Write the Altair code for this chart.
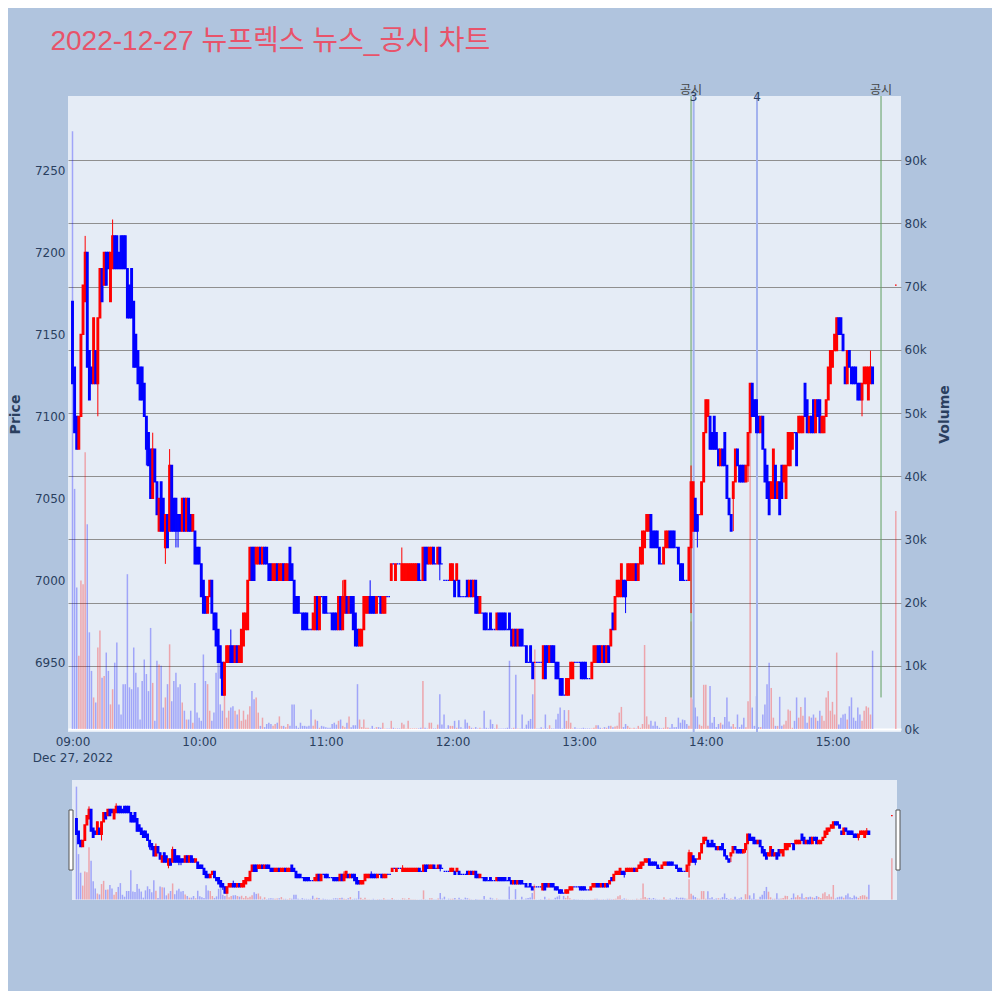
import json
import altair as alt
import pandas as pd

# ---- minute candles from 09:00 (open / close in KRW) ----
open_09 = [7170, 7130, 7100, 7080, 7100, 7150, 7170, 7200, 7140, 7130,
           7120, 7140, 7120, 7160, 7190, 7180, 7200, 7200, 7170, 7190,
           7210, 7210, 7200, 7210, 7210, 7210, 7190, 7180, 7190, 7170,
           7150, 7140, 7130, 7130, 7120, 7100, 7090, 7080, 7050, 7080,
           7060, 7030, 7060, 7050, 7020, 7040, 7030, 7070, 7050, 7050,
           7040, 7040, 7030, 7050, 7030, 7050, 7040, 7030, 7030, 7020]
close_09 = [7120, 7090, 7080, 7100, 7150, 7180, 7200, 7130, 7110, 7120,
            7160, 7120, 7160, 7190, 7170, 7200, 7180, 7190, 7200, 7210,
            7190, 7190, 7190, 7190, 7190, 7190, 7160, 7160, 7160, 7130,
            7130, 7120, 7110, 7110, 7100, 7080, 7070, 7050, 7080, 7060,
            7040, 7050, 7030, 7030, 7040, 7020, 7070, 7030, 7030, 7030,
            7030, 7030, 7050, 7030, 7050, 7030, 7030, 7040, 7010, 7010]
open_10 = [7020, 7010, 7000, 6990, 6980, 6990, 7000, 6980, 6980, 6970,
           6960, 6950, 6930, 6950, 6950, 6960, 6960, 6950, 6960, 6950,
           6950, 6960, 6970, 6970, 7000, 7020, 7020, 7010, 7010, 7020,
           7010, 7020, 7020, 7010, 7010, 7000, 7000, 7010, 7000, 7000,
           7010, 7000, 7000, 7020, 7010, 7000, 6990, 6990, 6980, 6980,
           6980, 6980, 6970, 6970, 6970, 6970, 6990, 6970, 6990, 6990]
close_10 = [7010, 6990, 6980, 6980, 6990, 7000, 6980, 6970, 6960, 6950,
            6950, 6930, 6950, 6960, 6960, 6950, 6950, 6960, 6950, 6960,
            6970, 6980, 6980, 7000, 7020, 7000, 7000, 7020, 7020, 7010,
            7020, 7010, 7010, 7000, 7000, 7010, 7010, 7000, 7010, 7010,
            7000, 7010, 7010, 7000, 7000, 6980, 6980, 6980, 6980, 6970,
            6970, 6970, 6970, 6970, 6980, 6990, 6970, 6990, 6990, 6980]
open_11 = [6990, 6980, 6980, 6980, 6980, 6980, 6970, 6990, 6970, 6980,
           6990, 6980, 6990, 6990, 6980, 6970, 6960, 6960, 6970, 6980,
           6980, 6990, 6990, 6990, 6980, 6990, 6990, 6980, 6980, 6990,
           6990, 7000, 7010, 7000, 7010, 7010, 7000, 7000, 7000, 7000,
           7000, 7000, 7000, 7000, 7010, 7000, 7000, 7020, 7020, 7010,
           7010, 7020, 7010, 7010, 7020, 7010, 7000, 7000, 7000, 7000]
close_11 = [6980, 6980, 6980, 6970, 6970, 6970, 6990, 6970, 6990, 7000,
            6980, 6990, 6980, 6970, 6960, 6960, 6970, 6970, 6990, 6990,
            6990, 6980, 6980, 6980, 6990, 6990, 6980, 6990, 6990, 6990,
            6990, 7010, 7010, 7010, 7010, 7010, 7010, 7010, 7010, 7010,
            7010, 7010, 7010, 7010, 7000, 7000, 7020, 7000, 7010, 7020,
            7020, 7010, 7010, 7020, 7010, 7010, 7000, 7000, 7000, 7010]
open_12 = [7000, 7000, 7000, 7000, 6990, 6990, 6990, 7000, 6990, 7000,
           6990, 7000, 6990, 6980, 6980, 6980, 6980, 6970, 6980, 6970,
           6970, 6970, 6980, 6980, 6980, 6980, 6970, 6980, 6970, 6960,
           6970, 6960, 6970, 6970, 6960, 6960, 6950, 6960, 6950, 6950,
           6950, 6950, 6950, 6940, 6960, 6960, 6950, 6960, 6960, 6950,
           6950, 6940, 6940, 6930, 6930, 6930, 6940, 6940, 6950, 6950]
close_12 = [7010, 6990, 7010, 6990, 6990, 6990, 6990, 6990, 7000, 6990,
            7000, 6980, 6980, 6990, 6980, 6970, 6970, 6970, 6970, 6970,
            6970, 6980, 6970, 6970, 6970, 6970, 6970, 6970, 6960, 6970,
            6960, 6970, 6960, 6960, 6960, 6950, 6950, 6950, 6940, 6950,
            6950, 6950, 6950, 6960, 6940, 6950, 6960, 6950, 6950, 6940,
            6940, 6930, 6930, 6930, 6940, 6940, 6950, 6950, 6950, 6950]
open_13 = [6950, 6950, 6950, 6950, 6940, 6940, 6940, 6950, 6950, 6960,
           6960, 6950, 6960, 6950, 6960, 6960, 6980, 6970, 6990, 6990,
           6990, 7000, 7000, 7000, 7000, 7000, 7000, 7010, 7000, 7010,
           7010, 7020, 7030, 7030, 7040, 7030, 7030, 7030, 7020, 7010,
           7010, 7020, 7020, 7030, 7030, 7030, 7020, 7020, 7010, 7010,
           7000, 7000, 7000, 7020, 7030, 7050, 7040, 7040, 7040, 7060]
close_13 = [6950, 6940, 6940, 6940, 6940, 6940, 6950, 6960, 6960, 6950,
            6950, 6960, 6950, 6960, 6950, 6970, 6970, 6990, 7000, 7000,
            7010, 6990, 6990, 7010, 7010, 7010, 7010, 7000, 7010, 7020,
            7030, 7030, 7040, 7040, 7020, 7020, 7020, 7020, 7010, 7010,
            7020, 7030, 7030, 7020, 7020, 7020, 7020, 7010, 7000, 7000,
            7000, 7000, 7020, 7060, 7060, 7030, 7030, 7040, 7060, 7090]
open_14 = [7090, 7100, 7100, 7090, 7100, 7090, 7080, 7070, 7080, 7090,
           7070, 7050, 7040, 7050, 7060, 7080, 7070, 7070, 7070, 7060,
           7070, 7090, 7120, 7110, 7110, 7100, 7090, 7100, 7080, 7070,
           7060, 7050, 7050, 7070, 7050, 7060, 7070, 7060, 7050, 7070,
           7070, 7080, 7090, 7090, 7090, 7090, 7090, 7120, 7110, 7090,
           7100, 7110, 7090, 7110, 7110, 7090, 7090, 7100, 7110, 7120]
close_14 = [7110, 7110, 7080, 7080, 7080, 7080, 7070, 7080, 7070, 7070,
            7050, 7040, 7030, 7060, 7080, 7070, 7060, 7060, 7060, 7070,
            7090, 7120, 7100, 7100, 7090, 7090, 7100, 7080, 7060, 7050,
            7040, 7060, 7080, 7050, 7060, 7040, 7050, 7070, 7070, 7090,
            7090, 7090, 7090, 7070, 7100, 7100, 7100, 7100, 7090, 7100,
            7090, 7090, 7110, 7100, 7090, 7100, 7100, 7110, 7130, 7140]
open_15 = [7130, 7140, 7140, 7160, 7160, 7150, 7130, 7120, 7140, 7130,
           7130, 7130, 7120, 7120, 7110, 7120, 7120, 7110, 7120, 7130]
close_15 = [7140, 7150, 7160, 7150, 7150, 7140, 7120, 7140, 7130, 7120,
            7120, 7120, 7110, 7110, 7120, 7130, 7130, 7130, 7130, 7120]

# visible wick extremes (minute index -> price)
wick_high = {6: 7210, 19: 7220, 38: 7090, 46: 7080, 75: 6970, 128: 7000,
             141: 7000, 156: 7020, 293: 7070, 378: 7140}
wick_low = {12: 7100, 35: 7070, 44: 7010, 49: 7020, 50: 7020, 70: 6940,
            174: 7000, 262: 6980, 293: 6980, 296: 7020, 313: 7030, 320: 7060,
            374: 7100}

# volume per minute, thousand shares
vol_09 = [94.6, 38.0, 22.4, 11.6, 23.5, 22.9, 43.8, 32.4, 15.3, 9.2,
          5.0, 4.2, 12.9, 15.6, 8.1, 8.4, 12.1, 9.2, 3.9, 6.3,
          10.5, 13.7, 3.9, 2.3, 7.1, 7.1, 24.5, 6.6, 6.3, 12.9,
          8.9, 6.6, 1.5, 7.6, 11.0, 8.7, 6.0, 16.0, 7.3, 1.3,
          10.8, 10.2, 10.0, 3.4, 5.0, 7.1, 13.4, 4.4, 7.6, 8.9,
          6.6, 7.1, 4.2, 2.9, 1.5, 1.5, 2.9, 1.0, 7.3, 2.6]
vol_10 = [1.8, 1.3, 11.8, 7.6, 7.1, 2.9, 1.3, 2.6, 8.9, 11.8,
          3.9, 2.9, 7.1, 1.8, 2.9, 3.4, 3.6, 2.9, 2.3, 3.1,
          1.3, 2.9, 1.5, 2.3, 3.6, 6.0, 4.7, 5.0, 2.6, 0.5,
          1.8, 0.3, 0.8, 1.0, 0.8, 0.5, 0.8, 1.0, 2.0, 0.5,
          0.5, 0.3, 0.8, 0.5, 3.9, 3.9, 0.5, 0.2, 1.0, 0.5,
          0.5, 0.4, 0.5, 3.1, 0.5, 1.5, 1.3, 0.2, 0.5, 0.4]
vol_11 = [0.3, 0.2, 0.2, 0.8, 1.0, 0.7, 1.3, 1.5, 0.5, 0.3,
          1.0, 2.0, 0.3, 0.6, 0.6, 7.1, 1.5, 0.3, 1.5, 0.2,
          0.2, 0.1, 0.5, 0.1, 0.3, 0.3, 0.2, 1.0, 0.1, 0.1,
          0.1, 1.3, 0.2, 0.1, 0.1, 0.1, 1.0, 0.7, 0.1, 1.3,
          0.1, 0.1, 0.1, 0.1, 0.1, 0.2, 7.6, 0.2, 0.1, 1.0,
          1.0, 0.1, 0.1, 0.7, 5.5, 0.7, 2.3, 0.1, 0.6, 0.5]
vol_12 = [0.5, 1.3, 0.2, 1.4, 0.3, 0.1, 1.5, 1.0, 0.5, 0.2,
          0.1, 0.3, 0.1, 0.2, 0.1, 2.9, 0.2, 0.1, 1.5, 0.8,
          0.1, 0.7, 0.1, 0.1, 0.1, 0.1, 0.2, 10.8, 0.1, 0.2,
          8.6, 0.1, 0.1, 2.3, 0.1, 0.7, 1.3, 1.6, 5.5, 12.6,
          0.1, 0.1, 0.3, 0.1, 2.3, 0.1, 0.6, 0.1, 0.1, 1.5,
          2.4, 3.4, 0.1, 3.0, 1.3, 3.0, 1.0, 0.1, 0.3, 0.1]
vol_13 = [0.1, 0.1, 0.2, 0.1, 0.1, 0.1, 0.1, 0.2, 0.6, 0.6,
          0.2, 0.1, 0.3, 0.2, 0.5, 0.5, 0.3, 0.4, 0.5, 2.6,
          3.5, 0.3, 0.8, 0.5, 0.2, 0.1, 0.2, 0.1, 0.5, 0.2,
          0.8, 13.3, 2.0, 0.7, 1.3, 0.5, 1.2, 0.5, 0.2, 0.1,
          0.2, 1.9, 0.3, 0.2, 0.8, 0.3, 0.3, 1.8, 1.0, 1.5,
          1.4, 0.8, 0.5, 17.0, 4.7, 3.4, 2.0, 0.7, 0.5, 7.0]
vol_14 = [7.0, 0.5, 6.8, 1.0, 1.9, 0.3, 0.8, 1.0, 0.7, 1.9,
          5.0, 1.2, 0.4, 0.8, 0.3, 2.3, 0.3, 0.7, 1.8, 0.3,
          4.4, 54.0, 3.4, 0.5, 5.2, 0.3, 0.3, 2.3, 3.9, 7.1,
          10.5, 6.5, 1.8, 0.5, 0.5, 5.1, 0.5, 0.7, 1.3, 3.1,
          2.9, 0.2, 1.3, 5.0, 1.8, 3.5, 2.1, 5.0, 1.0, 2.0,
          1.8, 2.3, 1.8, 1.3, 2.9, 2.1, 1.3, 5.0, 6.0, 2.9]
vol_15 = [4.3, 2.3, 12.1, 0.7, 1.8, 2.3, 2.4, 1.5, 3.6, 5.0,
          1.8, 1.3, 3.4, 2.3, 1.3, 2.9, 3.6, 3.4, 2.3, 12.4]

# closing single-price auction
auction_time = "15:30"
auction_price = 7180
auction_vol = 34.5

# disclosure / news markers
gongsi_times = ["13:53", "15:23"]
news_times = ["13:54:15", "14:24:15"]
news_labels = ["3", "4"]

tick_labels = ["09:00", "10:00", "11:00", "12:00", "13:00", "14:00", "15:00"]
date_label = "Dec 27, 2022"
title_text = "2022-12-27 뉴프렉스 뉴스_공시 차트"


def minute_of(t):
    parts = [int(p) for p in t.split(":")]
    sec = parts[2] / 60 if len(parts) > 2 else 0
    return (parts[0] - 9) * 60 + parts[1] + sec


opens = open_09 + open_10 + open_11 + open_12 + open_13 + open_14 + open_15
closes = close_09 + close_10 + close_11 + close_12 + close_13 + close_14 + close_15
vols = vol_09 + vol_10 + vol_11 + vol_12 + vol_13 + vol_14 + vol_15
if not (len(opens) == len(closes) == len(vols)):
    raise ValueError((len(opens), len(closes), len(vols)))

mins = list(range(len(opens))) + [minute_of(auction_time)]
opens = opens + [auction_price]
closes = closes + [auction_price]
vols = vols + [auction_vol]

rows = []
prev = None
for i, (m, o, c, v) in enumerate(zip(mins, opens, closes, vols)):
    h = max(o, c, wick_high.get(i, o))
    lo = min(o, c, wick_low.get(i, o))
    if c > o:
        d = "up"
    elif c < o:
        d = "down"
    else:
        d = "up" if prev is not None and c > prev else "down"
    rows.append({"m": m, "o": o, "c": c, "h": h, "l": lo, "v": v * 1000, "dir": d})
    prev = c
candles = pd.DataFrame(rows)

gongsi = pd.DataFrame({"m": [minute_of(t) for t in gongsi_times], "label": "공시"})
news = pd.DataFrame({"m": [minute_of(t) for t in news_times], "label": news_labels})

FONT = "DejaVu Sans, Noto Sans CJK KR"
INK = "#2a3f5f"
W, H = 833, 636
SW, SH = 833, 120

x_domain = [-2.13, 392.46]
price_scale = alt.Scale(domain=[6907.5, 7295.3], nice=False, zero=False, padding=0)
vol_scale = alt.Scale(domain=[-470, 100170], nice=False, zero=False, padding=0)
color_scale = alt.Scale(domain=["up", "down"], range=["#ff0000", "#0000ff"])

label_expr = ("datum.value == 0 ? ['%s', '%s'] : %s[floor(datum.value / 60)]"
              % (tick_labels[0], date_label, json.dumps(tick_labels)))
x_main = alt.X("m:Q", scale=alt.Scale(domain=x_domain, nice=False, zero=False, padding=0),
               axis=alt.Axis(values=[i * 60 for i in range(len(tick_labels))],
                             labelExpr=label_expr, grid=False, ticks=False,
                             domain=False, title=None, labelPadding=4,
                             labelLineHeight=16, labelFontSize=12))
x_slider = alt.X("m:Q", scale=alt.Scale(domain=x_domain, range=[4, SW - 4],
                                        nice=False, zero=False, padding=0), axis=None)

price_axis = alt.Axis(values=list(range(6950, 7251, 50)), format="d",
                      title="Price", titleFontWeight="bold", titleFontSize=14,
                      titlePadding=12, gridColor="white", gridWidth=1,
                      domain=False, ticks=False, labelPadding=3, labelFontSize=12)
vol_axis = alt.Axis(orient="right", values=list(range(0, 90001, 10000)),
                    format="~s", title="Volume", titleFontWeight="bold",
                    titleFontSize=14, titleAngle=270, titlePadding=25,
                    gridColor={"condition": {"test": "datum.value === 0", "value": "white"},
                               "value": "#8f8f8f"},
                    gridWidth={"condition": {"test": "datum.value === 0", "value": 2},
                               "value": 1.2},
                    domain=False, ticks=False, labelPadding=3, labelFontSize=12)

color = alt.Color("dir:N", scale=color_scale, legend=None)
stroke = alt.Stroke("dir:N", scale=color_scale, legend=None)


def volume_bars(x_enc, axis):
    return alt.Chart(candles).mark_bar(size=1.5, opacity=0.3).encode(
        x=x_enc, y=alt.Y("v:Q", scale=vol_scale, axis=axis), color=color)


def candle_marks(x_enc, axis):
    wick = alt.Chart(candles).mark_rule(strokeWidth=1).encode(
        x=x_enc, y=alt.Y("l:Q", scale=price_scale, axis=axis), y2="h:Q", color=color)
    body = alt.Chart(candles).mark_bar(size=1.6, strokeWidth=1.3).encode(
        x=x_enc, y=alt.Y("o:Q", scale=price_scale, axis=axis), y2="c:Q",
        color=color, stroke=stroke)
    return alt.layer(wick, body)


green_lines = alt.Chart(gongsi).mark_rule(color="#5f9e5f", strokeWidth=1).encode(
    x=x_main, y=alt.YDatum(100170, scale=vol_scale, axis=vol_axis),
    y2=alt.Y2Datum(5000))
blue_lines = alt.Chart(news).mark_rule(color="#a3b2ee", strokeWidth=2).encode(
    x=x_main, y=alt.value(0), y2=alt.value(H))
gongsi_text = alt.Chart(gongsi).mark_text(
    baseline="bottom", fontSize=12, font=FONT, color="#444444", dy=1).encode(
    x=x_main, y=alt.value(0), text="label:N")
news_text = alt.Chart(news).mark_text(
    baseline="middle", fontSize=12, font=FONT, color=INK, dy=1).encode(
    x=x_main, y=alt.value(0), text="label:N")

main = alt.layer(
    alt.layer(volume_bars(x_main, vol_axis), green_lines),
    blue_lines,
    candle_marks(x_main, price_axis),
    gongsi_text,
    news_text,
).resolve_scale(y="independent").properties(
    width=W, height=H, view=alt.ViewBackground(fill="#e5ecf6", strokeWidth=0))

blank = pd.DataFrame({"k": [0]})
slider_bg = alt.Chart(blank).mark_rect(color="#e5ecf6").encode(
    x=alt.value(4), x2=alt.value(SW - 4), y=alt.value(0), y2=alt.value(SH))
left_handle = alt.Chart(blank).mark_rect(fill="white", stroke="#555555", strokeWidth=1).encode(
    x=alt.value(1), x2=alt.value(5), y=alt.value(30), y2=alt.value(90))
right_handle = alt.Chart(blank).mark_rect(fill="white", stroke="#555555", strokeWidth=1).encode(
    x=alt.value(SW - 5), x2=alt.value(SW - 1), y=alt.value(30), y2=alt.value(90))

slider = alt.layer(
    slider_bg,
    volume_bars(x_slider, None),
    candle_marks(x_slider, None),
    left_handle,
    right_handle,
).resolve_scale(y="independent").properties(width=SW, height=SH)

chart = alt.vconcat(main, slider, spacing=17).resolve_scale(x="independent").properties(
    title=alt.TitleParams(title_text, anchor="start", font="Liberation Sans, Noto Sans CJK KR",
                          fontSize=28, fontWeight="normal", color="#e8536a",
                          dx=42, offset=28),
    background="#b0c4de",
    padding={"left": 0, "top": 20, "right": 40, "bottom": 91},
).configure_view(strokeWidth=0).configure_axis(
    labelFont=FONT, titleFont=FONT, labelColor=INK, titleColor=INK)

chart.save("out.html", embed_options={"renderer": "svg", "actions": False})
